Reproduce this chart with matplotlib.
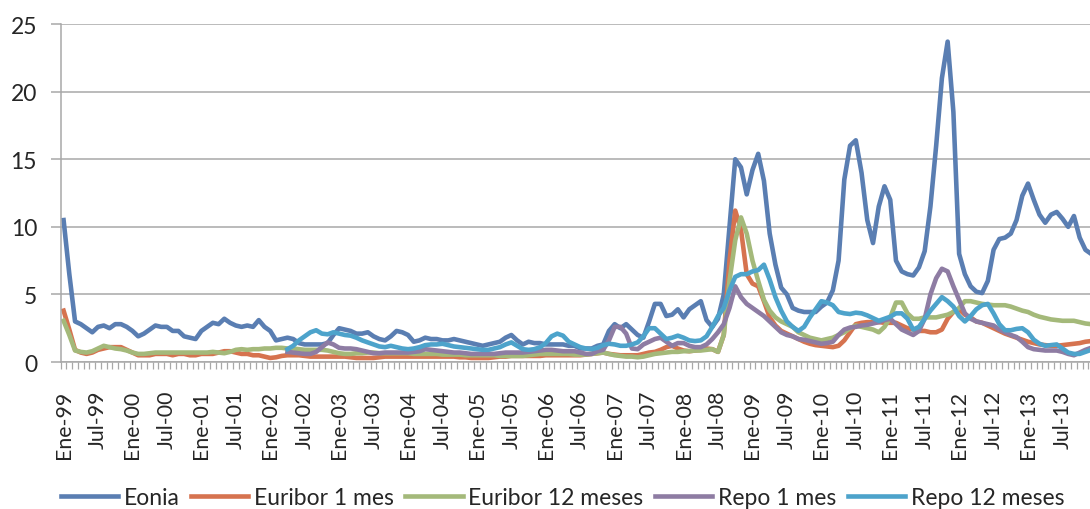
import numpy as np
import matplotlib
matplotlib.use("Agg")
from matplotlib import pyplot as plt

plt.rcParams['font.family'] = ['Lato', 'DejaVu Sans']

# monthly series, Jan-1999 .. Dec-2013
eonia = [
    10.5, 6.5, 3.0, 2.8, 2.5, 2.2, 2.6, 2.7, 2.5, 2.8, 2.8, 2.6,
    2.3, 1.9, 2.1, 2.4, 2.7, 2.6, 2.6, 2.3, 2.3, 1.9, 1.8, 1.7,
    2.3, 2.6, 2.9, 2.8, 3.2, 2.9, 2.7, 2.6, 2.7, 2.6, 3.1, 2.6,
    2.3, 1.6, 1.7, 1.8, 1.7, 1.4, 1.3, 1.3, 1.3, 1.3, 1.4, 2.0,
    2.5, 2.4, 2.3, 2.1, 2.1, 2.2, 1.9, 1.7, 1.6, 1.9, 2.3, 2.2,
    2.0, 1.5, 1.6, 1.8, 1.7, 1.7, 1.6, 1.6, 1.7, 1.6, 1.5, 1.4,
    1.3, 1.2, 1.3, 1.4, 1.5, 1.8, 2.0, 1.6, 1.3, 1.5, 1.4, 1.4,
    1.3, 1.3, 1.3, 1.3, 1.2, 1.2, 1.0, 1.0, 1.0, 1.2, 1.3, 2.3,
    2.8, 2.5, 2.8, 2.4, 2.0, 1.8, 3.0, 4.3, 4.3, 3.4, 3.5, 3.9,
    3.3, 3.9, 4.2, 4.5, 3.1, 2.6, 3.2, 5.0, 10.0, 15.0, 14.4, 12.4,
    14.2, 15.4, 13.4, 9.5, 7.2, 5.5, 5.0, 4.0, 3.8, 3.7, 3.7, 3.7,
    4.1, 4.4, 5.3, 7.5, 13.5, 16.0, 16.4, 14.0, 10.5, 8.8, 11.5, 13.0,
    12.0, 7.5, 6.7, 6.5, 6.4, 7.0, 8.2, 11.5, 16.0, 21.0, 23.7, 18.5,
    8.0, 6.5, 5.6, 5.2, 5.1, 6.0, 8.3, 9.1, 9.2, 9.5, 10.5, 12.3,
    13.2, 12.0, 10.9, 10.3, 10.9, 11.1, 10.6, 10.0, 10.8, 9.2, 8.3, 8.0,
]

euribor_1m = [
    3.8, 2.4, 0.9, 0.7, 0.6, 0.7, 0.9, 1.0, 1.1, 1.1, 1.1, 0.9,
    0.7, 0.5, 0.5, 0.5, 0.6, 0.6, 0.6, 0.5, 0.6, 0.6, 0.5, 0.5,
    0.6, 0.6, 0.6, 0.7, 0.8, 0.8, 0.7, 0.6, 0.6, 0.5, 0.5, 0.4,
    0.3, 0.35, 0.45, 0.5, 0.5, 0.5, 0.45, 0.4, 0.4, 0.4, 0.4, 0.4,
    0.4, 0.4, 0.35, 0.3, 0.3, 0.3, 0.3, 0.35, 0.4, 0.4, 0.4, 0.4,
    0.4, 0.4, 0.4, 0.4, 0.4, 0.4, 0.4, 0.4, 0.4, 0.35, 0.35, 0.3,
    0.3, 0.3, 0.3, 0.35, 0.4, 0.4, 0.45, 0.45, 0.45, 0.45, 0.45, 0.45,
    0.5, 0.5, 0.5, 0.5, 0.5, 0.5, 0.5, 0.55, 0.6, 0.65, 0.7, 0.6,
    0.55, 0.5, 0.5, 0.5, 0.5, 0.6, 0.7, 0.75, 0.9, 1.1, 1.2, 1.0,
    0.85, 0.8, 0.85, 0.9, 1.0, 0.95, 0.75, 2.0, 7.5, 11.2, 9.8, 6.5,
    5.8, 5.6, 4.5, 3.3, 2.7, 2.3, 2.1, 1.9, 1.7, 1.5, 1.35, 1.25,
    1.2, 1.15, 1.1, 1.2, 1.6, 2.2, 2.8, 2.9, 2.95, 2.95, 2.95, 2.9,
    2.9, 2.9, 2.7, 2.5, 2.4, 2.3, 2.3, 2.2, 2.2, 2.4, 3.2, 3.7,
    3.9, 3.5, 3.3, 3.0, 2.9, 2.7, 2.5, 2.3, 2.1, 1.95, 1.8, 1.65,
    1.5, 1.4, 1.3, 1.25, 1.2, 1.2, 1.25, 1.3, 1.35, 1.4, 1.5, 1.55,
]

euribor_12m = [
    3.05, 2.0, 0.85, 0.75, 0.7, 0.8, 1.0, 1.2, 1.1, 1.0, 0.95, 0.85,
    0.7, 0.6, 0.6, 0.65, 0.7, 0.7, 0.7, 0.7, 0.7, 0.7, 0.7, 0.7,
    0.7, 0.7, 0.75, 0.7, 0.65, 0.75, 0.9, 0.95, 0.9, 0.95, 0.95, 1.0,
    1.0, 1.05, 1.05, 1.0, 1.0, 0.95, 0.9, 0.9, 0.9, 0.9, 0.85, 0.75,
    0.65, 0.6, 0.6, 0.65, 0.65, 0.7, 0.7, 0.65, 0.65, 0.65, 0.65, 0.65,
    0.65, 0.6, 0.6, 0.6, 0.6, 0.6, 0.55, 0.55, 0.55, 0.55, 0.5, 0.5,
    0.5, 0.5, 0.5, 0.5, 0.45, 0.45, 0.45, 0.45, 0.45, 0.5, 0.55, 0.6,
    0.6, 0.6, 0.6, 0.6, 0.6, 0.55, 0.55, 0.55, 0.6, 0.65, 0.7, 0.6,
    0.5, 0.45, 0.4, 0.4, 0.35, 0.4, 0.5, 0.6, 0.65, 0.7, 0.75, 0.75,
    0.8, 0.8, 0.85, 0.85, 0.9, 0.95, 0.75, 2.0, 6.0, 9.0, 10.7, 9.5,
    7.5, 6.0, 4.6, 3.8, 3.3, 3.0, 2.8, 2.6, 2.2, 2.0, 1.8, 1.7,
    1.6, 1.7, 1.8, 2.0, 2.2, 2.5, 2.7, 2.6, 2.5, 2.4, 2.2, 2.6,
    3.3, 4.4, 4.4, 3.6, 3.2, 3.2, 3.3, 3.3, 3.3, 3.4, 3.5, 3.7,
    4.0, 4.5, 4.5, 4.4, 4.3, 4.25, 4.2, 4.2, 4.2, 4.1, 3.95, 3.8,
    3.7, 3.5, 3.35, 3.25, 3.15, 3.1, 3.05, 3.05, 3.05, 2.95, 2.85, 2.8,
]

# repo series only quoted from Apr-2002 on
repo_1m = [np.nan] * 39 + [
    0.75, 0.7, 0.65, 0.6, 0.6, 0.75, 1.1, 1.45, 1.3,
    1.05, 1.0, 1.0, 0.95, 0.85, 0.75, 0.65, 0.65, 0.7, 0.7, 0.7, 0.7,
    0.7, 0.75, 0.8, 0.95, 0.9, 0.85, 0.8, 0.75, 0.7, 0.7, 0.65, 0.6,
    0.6, 0.6, 0.6, 0.6, 0.65, 0.7, 0.7, 0.7, 0.7, 0.75, 0.8, 0.85,
    0.9, 0.9, 0.85, 0.8, 0.8, 0.8, 0.7, 0.6, 0.6, 0.8, 0.9, 1.6,
    2.6, 2.6, 2.1, 1.0, 0.95, 1.3, 1.5, 1.7, 1.8, 1.5, 1.2, 1.4,
    1.4, 1.2, 1.1, 1.1, 1.3, 1.7, 2.2, 2.8, 4.0, 5.6, 4.8, 4.3,
    4.0, 3.7, 3.4, 3.0, 2.6, 2.2, 2.0, 1.9, 1.7, 1.65, 1.55, 1.45,
    1.35, 1.4, 1.5, 2.0, 2.4, 2.55, 2.6, 2.7, 2.75, 2.85, 2.95, 3.1,
    3.2, 2.8, 2.4, 2.2, 2.0, 2.3, 3.2, 5.0, 6.2, 6.9, 6.7, 5.6,
    4.6, 3.6, 3.2, 3.0, 2.9, 2.8, 2.7, 2.4, 2.2, 2.0, 1.85, 1.5,
    1.1, 0.95, 0.9, 0.85, 0.85, 0.85, 0.75, 0.6, 0.5, 0.7, 0.9, 1.05,
]

repo_12m = [np.nan] * 39 + [
    0.95, 1.2, 1.6, 1.9, 2.2, 2.35, 2.1, 2.05, 2.2,
    2.1, 2.0, 1.95, 1.8, 1.6, 1.45, 1.3, 1.15, 1.1, 1.2, 1.1, 1.0,
    0.95, 1.0, 1.1, 1.25, 1.3, 1.3, 1.35, 1.25, 1.15, 1.1, 1.05, 1.0,
    0.95, 0.9, 0.9, 1.0, 1.1, 1.3, 1.45, 1.2, 0.95, 0.9, 0.95, 1.1,
    1.4, 1.9, 2.1, 1.95, 1.5, 1.3, 1.1, 1.0, 0.95, 1.05, 1.25, 1.35,
    1.3, 1.2, 1.2, 1.3, 1.45, 1.9, 2.5, 2.5, 2.1, 1.7, 1.8, 1.95,
    1.8, 1.6, 1.55, 1.6, 1.9, 2.6, 3.4, 4.0, 5.3, 6.3, 6.5, 6.5,
    6.7, 6.8, 7.2, 6.1, 4.8, 3.8, 3.0, 2.6, 2.3, 2.6, 3.3, 3.9,
    4.5, 4.4, 4.2, 3.7, 3.6, 3.55, 3.65, 3.6, 3.45, 3.25, 3.05, 3.2,
    3.35, 3.6, 3.6, 3.2, 2.4, 2.6, 3.2, 3.8, 4.3, 4.8, 4.5, 4.1,
    3.4, 3.0, 3.4, 3.9, 4.2, 4.3, 3.6, 2.8, 2.35, 2.35, 2.45, 2.5,
    2.2, 1.65, 1.35, 1.2, 1.25, 1.3, 1.0, 0.7, 0.6, 0.6, 0.75, 0.9,
]

tick_labels = [
    'Ene-99', 'Jul-99', 'Ene-00', 'Jul-00', 'Ene-01', 'Jul-01',
    'Ene-02', 'Jul-02', 'Ene-03', 'Jul-03', 'Ene-04', 'Jul-04',
    'Ene-05', 'Jul-05', 'Ene-06', 'Jul-06', 'Ene-07', 'Jul-07',
    'Ene-08', 'Jul-08', 'Ene-09', 'Jul-09', 'Ene-10', 'Jul-10',
    'Ene-11', 'Jul-11', 'Ene-12', 'Jul-12', 'Ene-13', 'Jul-13',
]

series = [
    ('Eonia', eonia, '#5A7EB2'),
    ('Euribor 1 mes', euribor_1m, '#D6734F'),
    ('Euribor 12 meses', euribor_12m, '#A4B97A'),
    ('Repo 1 mes', repo_1m, '#8E7CA3'),
    ('Repo 12 meses', repo_12m, '#4DA3CB'),
]

grid_col = '#A8A8A8'
text_col = '#262626'

fig = plt.figure(figsize=(10.9, 5.1), dpi=100)
ax = fig.add_axes([0.0557, 0.2882, 0.948, 0.6627])

n = len(eonia)
x = np.arange(n)
for name, vals, col in series:
    ax.plot(x, vals, color=col, lw=3.3, label=name, solid_joinstyle='round')

ax.set_xlim(-0.5, n - 0.5)
ax.set_ylim(0, 25)
ax.set_yticks([0, 5, 10, 15, 20, 25])
ax.yaxis.grid(True, color=grid_col, lw=1.1)
ax.set_axisbelow(True)

# labels every six months, tick marks on every month boundary
ax.set_xticks(np.arange(0, n, 6))
ax.set_xticklabels(tick_labels, rotation=90, fontsize=15.3, color=text_col)
ax.set_xticks(np.arange(-0.5, n, 1), minor=True)
ax.tick_params(axis='x', which='major', length=0, pad=20)
ax.tick_params(axis='x', which='minor', length=5, width=0.9, color=grid_col)
ax.tick_params(axis='y', length=7, width=1.1, color=grid_col, pad=10,
               labelsize=16.5, labelcolor=text_col)

for side in ('top', 'right'):
    ax.spines[side].set_visible(False)
for side in ('left', 'bottom'):
    ax.spines[side].set_color(grid_col)
    ax.spines[side].set_linewidth(1.1)

fig.legend(loc='center', bbox_to_anchor=(0.516, 0.022), ncol=5, frameon=False,
           fontsize=16.5, handlelength=2.5, handletextpad=0.25, columnspacing=0.5,
           labelcolor=text_col)

fig.savefig('out.png', dpi=100)
